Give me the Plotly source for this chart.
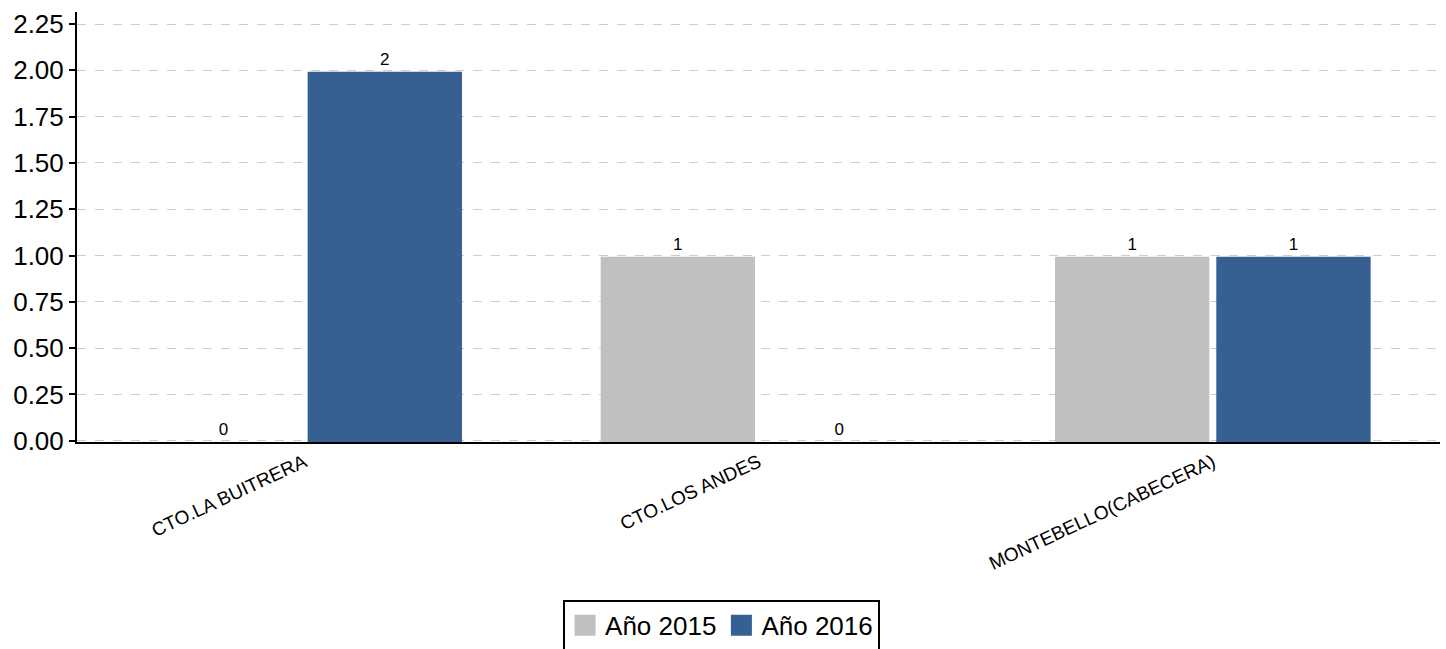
import plotly.graph_objects as go

categories = ["CTO.LA BUITRERA", "CTO.LOS ANDES", "MONTEBELLO(CABECERA)"]
values_2015 = [0, 1, 1]
values_2016 = [2, 0, 1]
series_names = ["Año 2015", "Año 2016"]
y_ticks = [0, 0.25, 0.5, 0.75, 1.0, 1.25, 1.5, 1.75, 2.0, 2.25]

colors = ["#C0C0C0", "#366092"]
BASE = -0.007
FONT = "Liberation Sans, Arial, sans-serif"

fig = go.Figure()
for name, vals, col in zip(series_names, [values_2015, values_2016], colors):
    fig.add_trace(go.Bar(
        x=categories, y=vals, name=name, base=BASE, showlegend=False,
        marker=dict(color=col, line=dict(width=0)),
        text=[str(v) for v in vals], textposition="outside",
        textfont=dict(size=17, color="black", family=FONT),
        cliponaxis=False,
    ))
# legend entries with larger square swatches
for name, col in zip(series_names, colors):
    fig.add_trace(go.Scatter(
        x=[None], y=[None], name=name, mode="markers",
        marker=dict(symbol="square", size=22, color=col, line=dict(color=col, width=5)),
        showlegend=True,
    ))

fig.update_layout(
    width=1446, height=649,
    margin=dict(l=77, r=6, t=12, b=207, autoexpand=False),
    plot_bgcolor="white", paper_bgcolor="white",
    barmode="group", bargap=0.29, bargroupgap=0.043,
    font=dict(family=FONT, color="black"),
    showlegend=True,
    legend=dict(orientation="h", x=0.4729, xanchor="center", y=-0.367, yanchor="top",
                bordercolor="black", borderwidth=2, font=dict(size=26),
                itemsizing="trace", traceorder="normal"),
    yaxis=dict(range=[BASE, 2.315], tickvals=y_ticks, tickformat=".2f",
               ticks="outside", ticklen=6, tickwidth=2, tickcolor="black",
               showline=True, linecolor="black", linewidth=2,
               showgrid=True, gridcolor="#CCCCCC", griddash="dash", gridwidth=1,
               zeroline=False, tickfont=dict(size=26), automargin=False),
    xaxis=dict(showline=True, linecolor="black", linewidth=2, ticks="",
               tickangle=-25, tickfont=dict(size=19), showgrid=False,
               automargin=False),
)

fig.write_html("out.html", config={"displayModeBar": False},
               post_script="document.body.style.margin='0';document.body.style.overflow='hidden';")
